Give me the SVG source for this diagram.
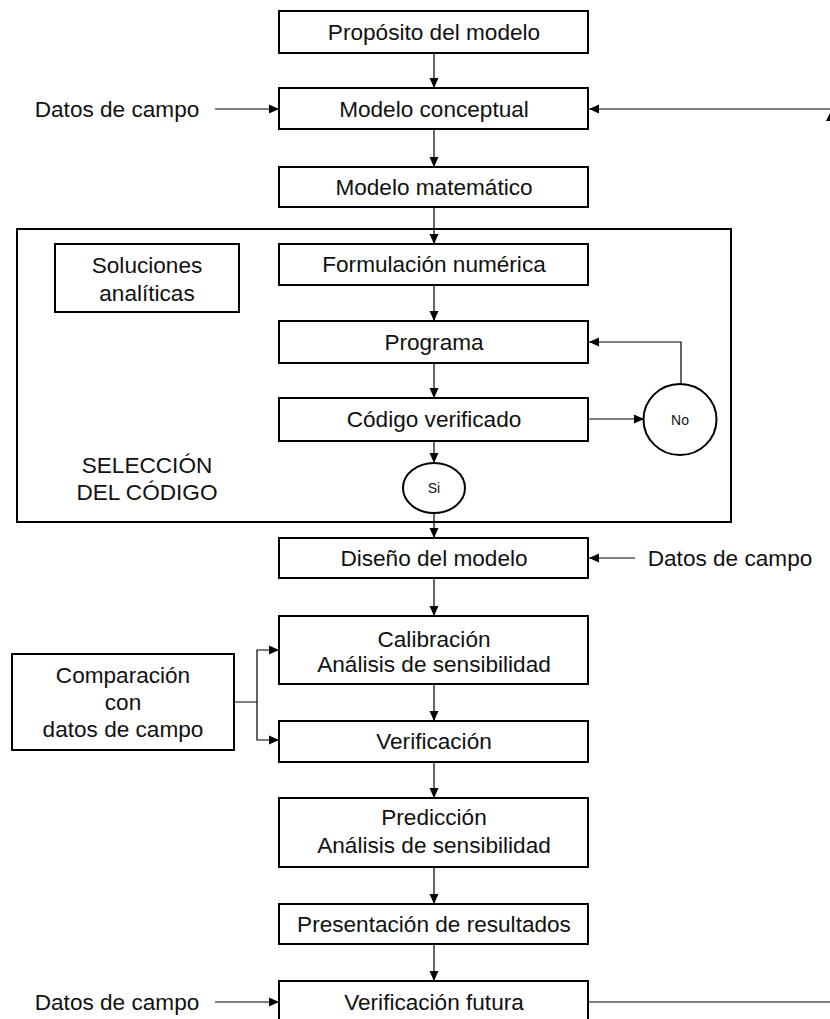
<svg xmlns="http://www.w3.org/2000/svg" width="830" height="1019" viewBox="0 0 830 1019">
<defs>
<marker id="ah" viewBox="0 0 10 10" refX="10" refY="5" markerWidth="10" markerHeight="10" markerUnits="userSpaceOnUse" orient="auto">
<path d="M0,0.5 L10,5 L0,9.5 Z" fill="#000"/>
</marker>
<style>
.box{fill:#fff;stroke:#000;stroke-width:2}
.frame{fill:none;stroke:#000;stroke-width:2}
.t{font-family:"Liberation Sans",Arial,sans-serif;font-size:22.6px;fill:#111;text-anchor:middle}
.s{font-family:"Liberation Sans",Arial,sans-serif;font-size:14px;fill:#111;text-anchor:middle}
.c{fill:none;stroke:#000;stroke-width:1.2}
.ca{fill:none;stroke:#000;stroke-width:1.2;marker-end:url(#ah)}
.g{fill:none;stroke:#555;stroke-width:1.5}
</style>
</defs>
<rect width="830" height="1019" fill="#fff"/>
<g id="frame"><rect class="frame" x="17" y="229" width="714" height="293"/>
<text class="t" x="147" y="473">SELECCIÓN</text><text class="t" x="147" y="500">DEL CÓDIGO</text></g>
<g id="connectors">
<line class="ca" x1="434" y1="53" x2="434" y2="88"/>
<line class="ca" x1="434" y1="129" x2="434" y2="167"/>
<line class="ca" x1="434" y1="207" x2="434" y2="244"/>
<line class="ca" x1="434" y1="285" x2="434" y2="321"/>
<line class="ca" x1="434" y1="363" x2="434" y2="398"/>
<line class="ca" x1="434" y1="441" x2="434" y2="463"/>
<line class="ca" x1="434" y1="513" x2="434" y2="538"/>
<line class="ca" x1="434" y1="578" x2="434" y2="616"/>
<line class="ca" x1="434" y1="684" x2="434" y2="721"/>
<line class="ca" x1="434" y1="762" x2="434" y2="798"/>
<line class="ca" x1="434" y1="867" x2="434" y2="904"/>
<line class="ca" x1="434" y1="944" x2="434" y2="981"/>
<line class="ca" x1="215" y1="109" x2="279" y2="109"/>
<line class="ca" x1="830" y1="109" x2="589" y2="109"/>
<polygon points="831,111 826,121 836,121" fill="#000"/>
<line class="ca" x1="588" y1="419" x2="644" y2="419"/>
<polyline class="ca" points="681,384 681,342 589,342"/>
<line class="ca" x1="635" y1="558" x2="589" y2="558"/>
<line class="g" x1="234" y1="702" x2="257" y2="702"/>
<polyline class="ca" points="257,702 257,650 279,650"/>
<polyline class="ca" points="257,702 257,740 279,740"/>
<line class="ca" x1="215" y1="1002" x2="279" y2="1002"/>
<line class="g" x1="588" y1="1002" x2="830" y2="1002"/>
</g>
<g id="proposito"><rect class="box" x="279" y="11" width="309" height="42"/><text class="t" x="434" y="40">Propósito del modelo</text></g>
<g id="datos1"><text class="t" x="117" y="117">Datos de campo</text></g>
<g id="conceptual"><rect class="box" x="279" y="88" width="309" height="41"/><text class="t" x="434" y="117">Modelo conceptual</text></g>
<g id="matematico"><rect class="box" x="279" y="167" width="309" height="40"/><text class="t" x="434" y="195">Modelo matemático</text></g>
<g id="soluciones"><rect class="box" x="55" y="244" width="184" height="68"/><text class="t" x="147" y="273">Soluciones</text><text class="t" x="147" y="301">analíticas</text></g>
<g id="formulacion"><rect class="box" x="279" y="244" width="309" height="41"/><text class="t" x="434" y="272">Formulación numérica</text></g>
<g id="programa"><rect class="box" x="279" y="321" width="309" height="42"/><text class="t" x="434" y="350">Programa</text></g>
<g id="codigo"><rect class="box" x="279" y="398" width="309" height="43"/><text class="t" x="434" y="427">Código verificado</text></g>
<g id="no"><ellipse class="box" cx="680" cy="419.5" rx="36.5" ry="35.5"/><text class="s" x="680" y="424.5">No</text></g>
<g id="si"><ellipse class="box" cx="434" cy="488" rx="31" ry="25"/><text class="s" x="434" y="493">Si</text></g>
<g id="diseno"><rect class="box" x="279" y="538" width="309" height="40"/><text class="t" x="434" y="566">Diseño del modelo</text></g>
<g id="datos2"><text class="t" x="730" y="566">Datos de campo</text></g>
<g id="calibracion"><rect class="box" x="279" y="616" width="309" height="68"/><text class="t" x="434" y="647">Calibración</text><text class="t" x="434" y="672">Análisis de sensibilidad</text></g>
<g id="comparacion"><rect class="box" x="12" y="654" width="222" height="96"/><text class="t" x="123" y="683">Comparación</text><text class="t" x="123" y="710">con</text><text class="t" x="123" y="737">datos de campo</text></g>
<g id="verificacion"><rect class="box" x="279" y="721" width="309" height="41"/><text class="t" x="434" y="749">Verificación</text></g>
<g id="prediccion"><rect class="box" x="279" y="798" width="309" height="69"/><text class="t" x="434" y="825">Predicción</text><text class="t" x="434" y="853">Análisis de sensibilidad</text></g>
<g id="presentacion"><rect class="box" x="279" y="904" width="309" height="40"/><text class="t" x="434" y="932">Presentación de resultados</text></g>
<g id="verifutura"><rect class="box" x="279" y="981" width="309" height="60"/><text class="t" x="434" y="1010">Verificación futura</text></g>
<g id="datos3"><text class="t" x="117" y="1010">Datos de campo</text></g>
</svg>
